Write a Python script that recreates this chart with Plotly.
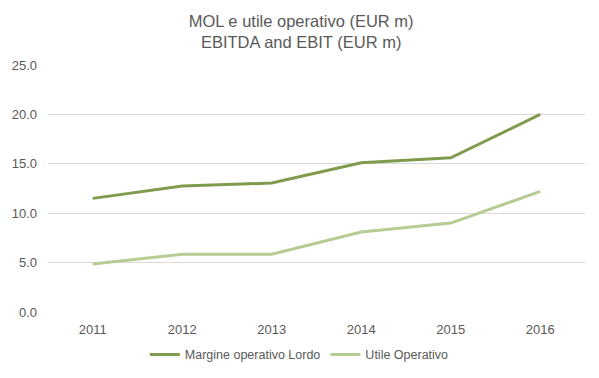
import plotly.graph_objects as go

years = ["2011", "2012", "2013", "2014", "2015", "2016"]
mol = [11.5, 12.75, 13.05, 15.1, 15.6, 20.0]
utile = [4.85, 5.85, 5.85, 8.1, 9.0, 12.2]
y_ticks = [0, 5, 10, 15, 20, 25]
y_tick_labels = ["0.0", "5.0", "10.0", "15.0", "20.0", "25.0"]

fig = go.Figure()
fig.add_trace(go.Scatter(x=years, y=mol, mode="lines", name="Margine operativo Lordo",
                         line=dict(color="#7f9c4d", width=3)))
fig.add_trace(go.Scatter(x=years, y=utile, mode="lines", name="Utile Operativo",
                         line=dict(color="#b5cc93", width=3)))

fig.update_layout(
    width=591, height=370,
    margin=dict(l=40, r=14, t=57, b=66, autoexpand=False),
    paper_bgcolor="white", plot_bgcolor="white",
    title=dict(text="MOL e utile operativo (EUR m)<br>EBITDA and EBIT (EUR m)",
               x=0.496, xanchor="center", y=0.949, yanchor="middle",
               font=dict(family="Liberation Sans Narrow, Arial Narrow, sans-serif", size=16.5, color="#595959")),
    font=dict(family="Liberation Sans, Arial, sans-serif", size=13, color="#595959"),
    showlegend=True,
    legend=dict(orientation="h", x=0.468, xanchor="center", y=-0.174, yanchor="middle",
                font=dict(size=12.5, color="#595959"), itemwidth=30),
    xaxis=dict(type="category", range=[-0.5, 5.5], showgrid=False, showline=False, ticks="",
               ticklabelstandoff=8, tickfont=dict(size=13, color="#595959")),
    yaxis=dict(range=[0, 25], tickvals=y_ticks, ticktext=y_tick_labels,
               showgrid=True, gridcolor="#d9d9d9", gridwidth=1, zeroline=False,
               showline=False, ticks="", ticklabelstandoff=10,
               tickfont=dict(size=13, color="#595959")),
)

fig.write_html("out.html")
